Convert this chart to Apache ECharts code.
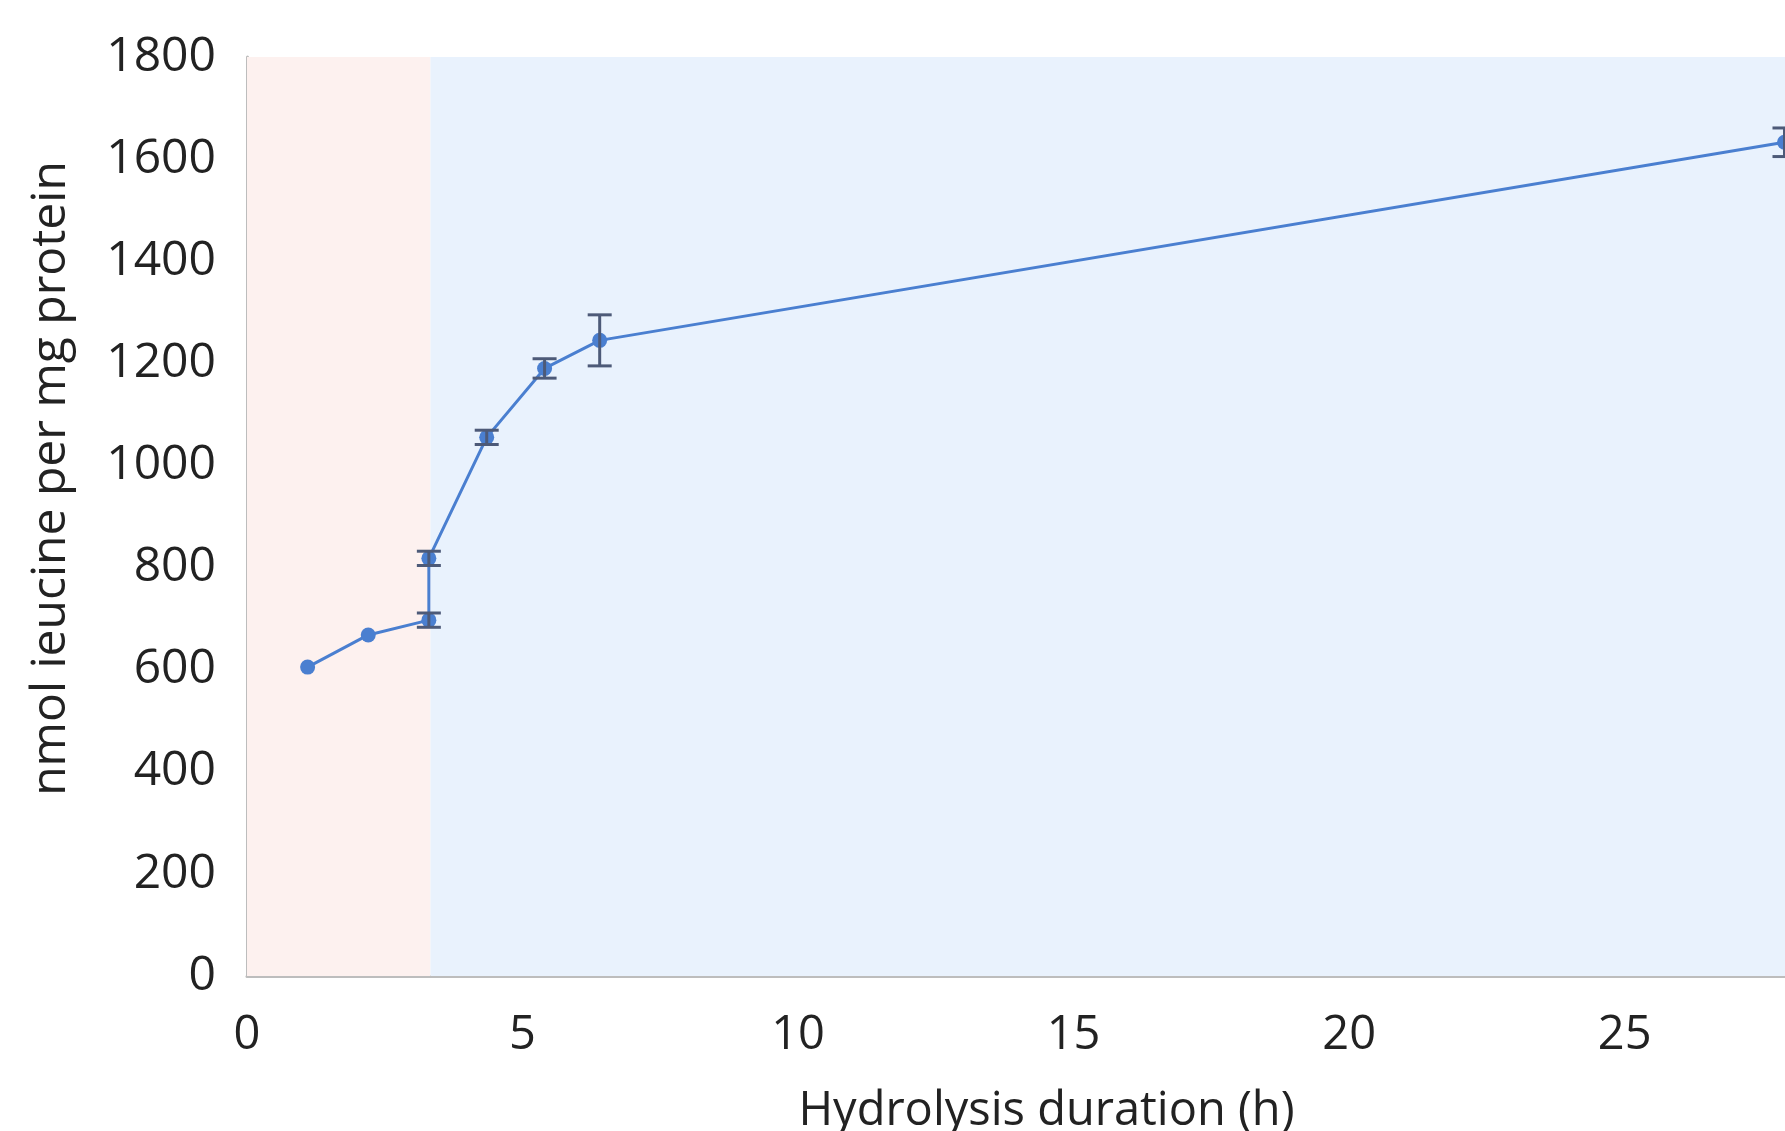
<!DOCTYPE html>
<html>
<head>
<meta charset="utf-8">
<script src="https://cdn.jsdelivr.net/npm/echarts@6/dist/echarts.min.js"></script>
<style>html,body{margin:0;padding:0;background:#fff;}#c{width:1785px;height:1131px;}</style>
</head>
<body>
<div id="c"></div>
<script>
// Data
const hours = [1.1, 2.2, 3.3, 3.3, 4.35, 5.4, 6.4, 27.9];
const leucine = [605, 668, 697, 818, 1055, 1190, 1245, 1633];
const errors = [0, 0, 14, 14, 14, 19, 50, 28];
const yTicks = [0, 200, 400, 600, 800, 1000, 1200, 1400, 1600, 1800];
const xTicks = [0, 5, 10, 15, 20, 25];
const phaseBoundary = 3.33;   // end of first (pink) phase, h
const xMax = 28;

const chart = echarts.init(document.getElementById('c'));
const font = 'Open Sans';
const pts = hours.map((h, i) => [h, leucine[i]]);
const errData = hours.map((h, i) => [h, leucine[i] - errors[i], leucine[i] + errors[i]]);

chart.setOption({
  animation: false,
  backgroundColor: '#ffffff',
  grid: { left: 247, top: 57, width: 1543, height: 919, outerBoundsMode: 'none', containLabel: false },
  xAxis: {
    type: 'value', min: 0, max: xMax, interval: 5,
    name: 'Hydrolysis duration (h)', nameLocation: 'middle', nameGap: 112,
    nameTextStyle: { fontFamily: font, fontSize: 47, color: '#222', padding: [0, 0, 0, 56] },
    axisLine: { show: true, lineStyle: { color: '#bdbdbd', width: 3 } },
    axisTick: { show: false },
    splitLine: { show: false },
    axisLabel: {
      fontFamily: font, fontSize: 47, color: '#222', margin: 36,
      formatter: v => xTicks.includes(v) ? String(v) : ''
    }
  },
  yAxis: {
    type: 'value', min: 0, max: 1800, interval: 200,
    name: 'nmol ieucine per mg protein', nameLocation: 'middle', nameGap: 172,
    nameTextStyle: { fontFamily: font, fontSize: 48, color: '#222', padding: [0, 0, 0, 76] },
    axisLine: { show: true, lineStyle: { color: '#bdbdbd', width: 3 } },
    axisTick: { show: false },
    splitLine: { show: false },
    axisLabel: {
      fontFamily: font, fontSize: 48, color: '#222', margin: 31,
      formatter: v => yTicks.includes(v) ? String(v) : ''
    }
  },
  series: [
    {
      type: 'line',
      data: pts,
      symbol: 'circle', symbolSize: 15,
      lineStyle: { color: '#4a7fd0', width: 3 },
      itemStyle: { color: '#4a7fd0' },
      z: 3,
      markArea: {
        silent: true,
        data: [
          [{ xAxis: 0, itemStyle: { color: '#fdf1ef' } }, { xAxis: phaseBoundary }],
          [{ xAxis: phaseBoundary, itemStyle: { color: '#e9f2fd' } }, { xAxis: xMax }]
        ]
      }
    },
    {
      type: 'custom',
      data: errData,
      z: 4,
      renderItem: function (params, api) {
        const x = api.value(0);
        const lo = api.coord([x, api.value(1)]);
        const hi = api.coord([x, api.value(2)]);
        if (api.value(2) - api.value(1) <= 0) return null;
        const w = 12;
        const st = { stroke: '#4d5a78', lineWidth: 3 };
        return {
          type: 'group',
          children: [
            { type: 'line', shape: { x1: lo[0], y1: lo[1], x2: hi[0], y2: hi[1] }, style: st },
            { type: 'line', shape: { x1: lo[0] - w, y1: lo[1], x2: lo[0] + w, y2: lo[1] }, style: st },
            { type: 'line', shape: { x1: hi[0] - w, y1: hi[1], x2: hi[0] + w, y2: hi[1] }, style: st }
          ]
        };
      }
    }
  ]
});
</script>
</body>
</html>
